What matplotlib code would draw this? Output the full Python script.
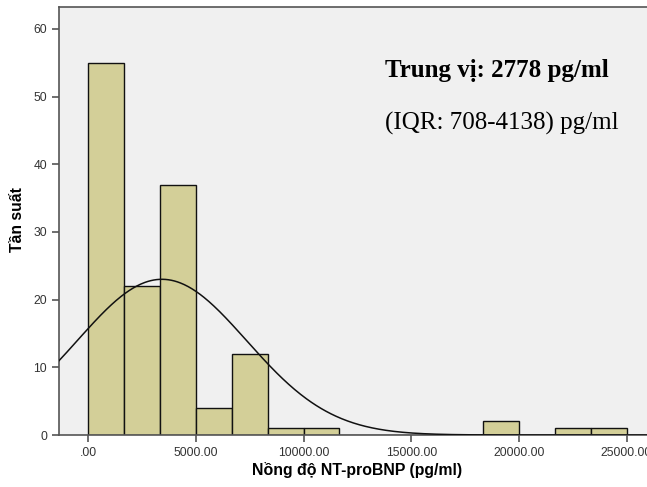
import matplotlib
matplotlib.use("Agg")
import matplotlib.pyplot as plt
import numpy as np

# Histogram data (bin width 1666.67 pg/ml)
bin_edges = [0, 1666.67, 3333.33, 5000, 6666.67, 8333.33, 10000, 11666.67,
             13333.33, 15000, 16666.67, 18333.33, 20000, 21666.67, 23333.33, 25000]
counts = [55, 22, 37, 4, 12, 1, 1, 0, 0, 0, 0, 2, 0, 1, 1]
n_total = sum(counts)

# Normal curve parameters (estimated)
curve_mean = 3420
curve_sd = 3930

x_ticks = [0, 5000, 10000, 15000, 20000, 25000]
x_ticklabels = [".00", "5000.00", "10000.00", "15000.00", "20000.00", "25000.00"]
y_ticks = [0, 10, 20, 30, 40, 50, 60]

bar_color = "#D3CF98"
bg_color = "#F0F0F0"

fig = plt.figure(figsize=(6.47, 4.87), dpi=100)
ax = fig.add_axes([59 / 647, 1 - 435 / 487, 1 - 59 / 647, (435 - 7) / 487])
ax.set_facecolor(bg_color)

lefts = np.array(bin_edges[:-1])
widths = np.diff(bin_edges)
ax.bar(lefts, counts, width=widths, align="edge", color=bar_color,
       edgecolor="#111111", linewidth=1.0, zorder=2)

xs = np.linspace(-1400, 26000, 600)
bw = bin_edges[1] - bin_edges[0]
ys = n_total * bw / (curve_sd * np.sqrt(2 * np.pi)) * np.exp(-0.5 * ((xs - curve_mean) / curve_sd) ** 2)
ax.plot(xs, ys, color="#111111", linewidth=1.1, zorder=3)

ax.set_xlim(-1361, 25950)
ax.set_ylim(0, 63.25)
ax.set_xticks(x_ticks)
ax.set_xticklabels(x_ticklabels)
ax.set_yticks(y_ticks)
ax.tick_params(axis="both", direction="out", length=5, width=1.2, color="#555555",
               labelsize=8.7, labelcolor="#333333")
for lbl in ax.get_xticklabels() + ax.get_yticklabels():
    lbl.set_family("Liberation Sans")

for side in ["left", "bottom", "top"]:
    ax.spines[side].set_color("#555555")
    ax.spines[side].set_linewidth(1.2)
ax.spines["right"].set_visible(False)

fig.text(18 / 647, 1 - 220 / 487, "Tần suất", rotation=90, ha="center", va="center",
         fontsize=11.3, fontweight="bold", family="Liberation Sans")
fig.text(357 / 647, 1 - 470 / 487, "Nồng độ NT-proBNP (pg/ml)", ha="center", va="center",
         fontsize=11.4, fontweight="bold", family="Liberation Sans")

fig.text(385 / 647, 1 - 70 / 487, "Trung vị: 2778 pg/ml", ha="left", va="center",
         fontsize=18, fontweight="bold", family="Liberation Serif")
fig.text(385 / 647, 1 - 123 / 487, "(IQR: 708-4138) pg/ml", ha="left", va="center",
         fontsize=18, family="Liberation Serif")

fig.savefig("out.png", dpi=100, facecolor="white")
